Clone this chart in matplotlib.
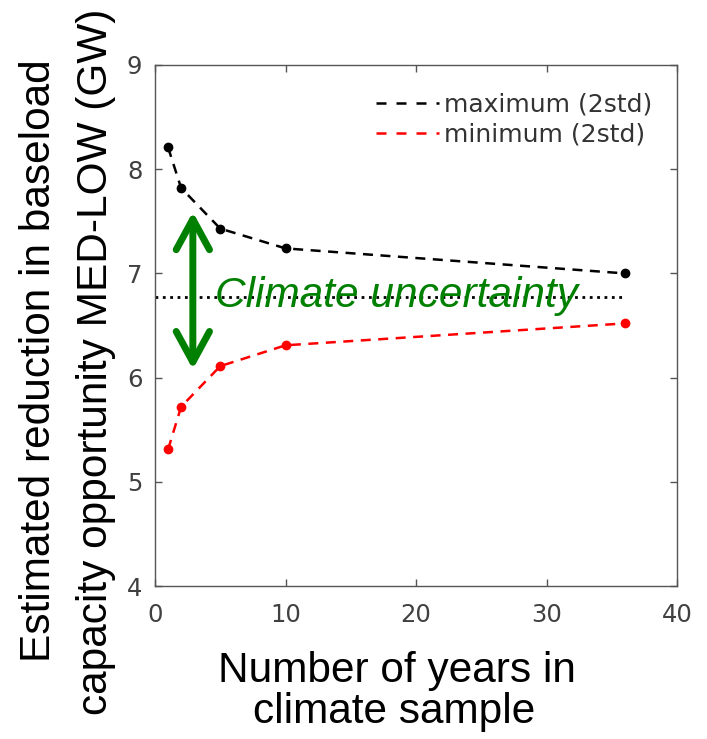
import matplotlib.pyplot as plt
from matplotlib.lines import Line2D

# sample sizes (years) and the 2-std bounds of the estimated reduction (GW)
years = [1, 2, 5, 10, 36]
max_2std = [8.21, 7.82, 7.43, 7.24, 7.00]
min_2std = [5.31, 5.72, 6.11, 6.31, 6.52]
mean_level = 6.77

x_ticks = [0, 10, 20, 30, 40]
y_ticks = [4, 5, 6, 7, 8, 9]

W, H = 707, 739
fig = plt.figure(figsize=(W / 100, H / 100), dpi=100)
ax = fig.add_axes([155 / W, 1 - 586 / H, (677 - 155) / W, (586 - 65) / H])

tick_col = "#404040"
dash = (4, 3)

ax.plot(years, max_2std, color="black", lw=1.8, dashes=dash)
ax.plot(years, max_2std, "o", color="black", ms=6, ls="none")
ax.plot(years, min_2std, color="red", lw=1.8, dashes=dash)
ax.plot(years, min_2std, "o", color="red", ms=6, ls="none")
ax.plot([0, years[-1]], [mean_level, mean_level], color="black", lw=2, ls=":")

# green double arrow spanning the uncertainty band
ax.annotate("", xy=(2.9, 7.59), xytext=(2.9, 6.08),
            arrowprops=dict(arrowstyle="<->,head_length=1.1,head_width=0.6",
                            color="#008000", lw=5, shrinkA=0, shrinkB=0,
                            mutation_scale=20))
ax.text(4.6, 6.68, "Climate uncertainty", color="#008000", fontsize=30.5,
        style="italic", family="Liberation Sans", va="baseline", ha="left")

ax.set_xlim(0, 40)
ax.set_ylim(4, 9)
ax.set_xticks(x_ticks)
ax.set_yticks(y_ticks)
ax.tick_params(direction="in", length=5, width=1, color="#555555",
               top=True, right=True, labelsize=17.5, labelcolor=tick_col)
ax.tick_params(axis="x", pad=12)
ax.tick_params(axis="y", pad=9)
for s in ax.spines.values():
    s.set_color("#555555")
    s.set_linewidth(1)

handles = [Line2D([], [], color="black", lw=1.8, dashes=(4, 4)),
           Line2D([], [], color="red", lw=1.8, dashes=(4, 4))]
ax.legend(handles, ["maximum (2std)", "minimum (2std)"], loc="upper right",
          bbox_to_anchor=(0.995, 0.99), frameon=False, fontsize=18,
          handlelength=2.5, handletextpad=0.2, labelspacing=0.25,
          labelcolor="#333333")

lab = dict(family="Liberation Sans", fontsize=30.5, color="black")
fig.text(397 / W, 1 - 682 / H, "Number of years in", ha="center", va="baseline", **lab)
fig.text(394 / W, 1 - 723 / H, "climate sample", ha="center", va="baseline", **lab)
fig.text(50 / W, 1 - 361 / H, "Estimated reduction in baseload", rotation=90,
         ha="center", va="baseline", rotation_mode="anchor", **lab)
fig.text(107 / W, 1 - 362 / H, "capacity opportunity MED-LOW (GW)", rotation=90,
         ha="center", va="baseline", rotation_mode="anchor", **lab)

fig.savefig("out.png", dpi=100)
